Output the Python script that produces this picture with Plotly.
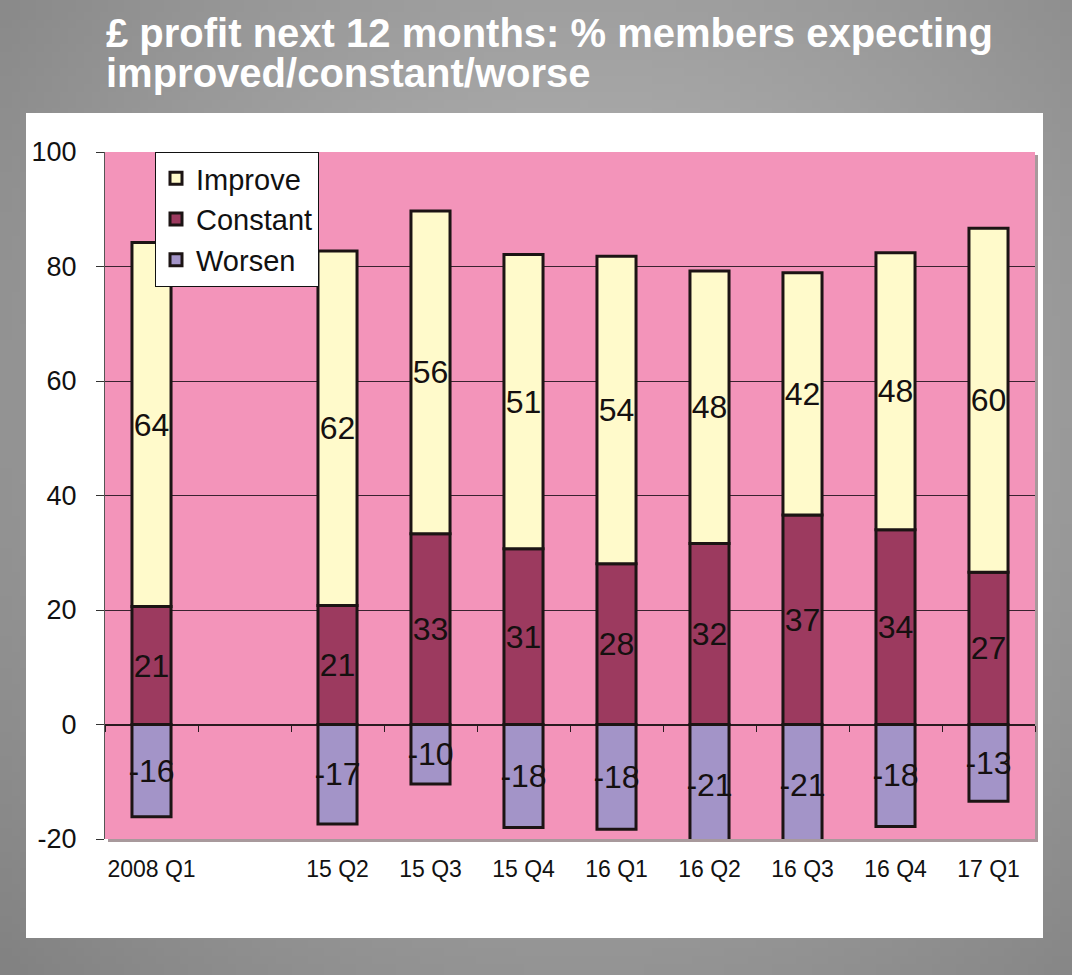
import base64
import struct
import zlib

import numpy as np
import plotly.graph_objects as go

# ---------------- data ----------------
categories = ["2008 Q1", "", "15 Q2", "15 Q3", "15 Q4", "16 Q1", "16 Q2", "16 Q3", "16 Q4", "17 Q1"]
worsen = [-16.1, None, -17.4, -10.4, -18.0, -18.3, -21.0, -21.2, -17.8, -13.4]
constant = [20.6, None, 20.8, 33.3, 30.7, 28.1, 31.6, 36.6, 34.0, 26.6]
improve = [63.6, None, 61.9, 56.4, 51.4, 53.7, 47.6, 42.3, 48.4, 60.1]
y_ticks = [-20, 0, 20, 40, 60, 80, 100]
y_tick_text = ["-20", "0", "20", "40", "60", "80", "100"]

title_lines = ["£ profit next 12 months: % members expecting", "improved/constant/worse"]

# ---------------- geometry ----------------
W, H = 1072, 975
ML, MR, MT, MB = 105, 37, 152, 136
PW, PH = W - ML - MR, H - MT - MB


def px_x(p):
    return (p - ML) / PW


def px_y(p):
    return (H - MB - p) / PH


# ---------------- background gradient image ----------------
def make_png(arr):
    h, w = arr.shape
    raw = b"".join(b"\x00" + bytes(np.repeat(row, 3).tolist()) for row in arr)

    def chunk(tag, data):
        c = struct.pack(">I", len(data)) + tag + data
        return c + struct.pack(">I", zlib.crc32(tag + data) & 0xFFFFFFFF)

    png = b"\x89PNG\r\n\x1a\n"
    png += chunk(b"IHDR", struct.pack(">IIBBBBB", w, h, 8, 2, 0, 0, 0))
    png += chunk(b"IDAT", zlib.compress(raw, 9))
    png += chunk(b"IEND", b"")
    return "data:image/png;base64," + base64.b64encode(png).decode()


gw, gh = 134, 122
yy, xx = np.mgrid[0:gh, 0:gw]
xx = xx * W / gw
yy = yy * H / gh
d = np.sqrt((xx - 580) ** 2 + (yy - 400) ** 2)
val = 182 - 48 * np.clip(d / 760, 0, 1.3) ** 1.2
bg_img = make_png(np.clip(val, 0, 255).astype(np.uint8))

x_pos = list(range(len(categories)))
FONT = "Liberation Sans, Arial, sans-serif"
label_font = dict(family=FONT, size=32, color="#151010")
edge = dict(color="#1c1414", width=3)


def labels(vals):
    return [("" if v is None else f"{v:.0f}") for v in vals]


fig = go.Figure()
fig.add_trace(go.Bar(x=x_pos, y=worsen, name="Worsen", marker=dict(color="#A394C8", line=edge),
                     text=labels(worsen)))
fig.add_trace(go.Bar(x=x_pos, y=constant, name="Constant", marker=dict(color="#9C3A5F", line=edge),
                     text=labels(constant)))
fig.add_trace(go.Bar(x=x_pos, y=improve, name="Improve", marker=dict(color="#FFFACB", line=edge),
                     text=labels(improve)))
fig.update_traces(width=0.42, textposition="inside", insidetextanchor="middle", textangle=0,
                  insidetextfont=label_font, hoverinfo="skip")

# minor boundary ticks on the zero line
fig.add_trace(go.Scatter(x=[None], y=[None], xaxis="x2", showlegend=False, hoverinfo="skip"))

fig.update_layout(
    width=W, height=H,
    margin=dict(l=ML, r=MR, t=MT, b=MB),
    barmode="relative",
    paper_bgcolor="#9a9a9a",
    plot_bgcolor="rgba(0,0,0,0)",
    uniformtext=dict(minsize=32, mode="show"),
    showlegend=True,
    legend=dict(x=px_x(155), y=1.0, xanchor="left", yanchor="top", bgcolor="white",
                bordercolor="#111", borderwidth=1, traceorder="reversed",
                font=dict(family=FONT, size=29, color="#111"),
                tracegroupgap=0, itemwidth=30),
    xaxis=dict(range=[-0.5, len(categories) - 0.5], tickvals=x_pos, ticktext=categories,
               showgrid=False, zeroline=False, showline=False, ticks="",
               ticklabelstandoff=14,
               tickfont=dict(family=FONT, size=23, color="#111")),
    xaxis2=dict(overlaying="x", anchor="free", position=20 / 120, side="bottom",
                range=[-0.5, len(categories) - 0.5],
                tickvals=[i - 0.5 for i in range(len(categories) + 1)],
                showticklabels=False, ticks="outside", ticklen=6, tickwidth=1, tickcolor="#2a1a20",
                showgrid=False, zeroline=False, showline=False),
    yaxis=dict(range=[-20, 100], tickvals=y_ticks, ticktext=y_tick_text,
               showgrid=True, gridcolor="#3a2230", gridwidth=1.2,
               zeroline=True, zerolinecolor="#2a1a20", zerolinewidth=1.5,
               showline=True, linecolor="#555", linewidth=1,
               ticks="outside", ticklen=8, tickcolor="#333", ticklabelstandoff=14,
               tickfont=dict(family=FONT, size=27, color="#111")),
)

# background image covering the whole page
fig.add_layout_image(dict(source=bg_img, xref="paper", yref="paper",
                          x=px_x(0), y=px_y(0), sizex=W / PW, sizey=H / PH,
                          xanchor="left", yanchor="top", sizing="stretch", layer="below"))

# white panel, plot shadow, pink plot area
fig.add_shape(type="rect", xref="paper", yref="paper", x0=px_x(26), x1=px_x(1043),
              y0=px_y(938), y1=px_y(113), fillcolor="white", line=dict(width=0), layer="below")
fig.add_shape(type="rect", xref="paper", yref="paper", x0=px_x(ML + 3), x1=px_x(ML + PW + 3),
              y0=px_y(H - MB + 3), y1=px_y(MT + 3), fillcolor="#a8999c", line=dict(width=0),
              layer="below")
fig.add_shape(type="rect", xref="paper", yref="paper", x0=0, x1=1, y0=0, y1=1,
              fillcolor="#F394BA", line=dict(width=0), layer="below")

# title (two lines, white bold)
for i, line in enumerate(title_lines):
    fig.add_annotation(text=f"<b>{line}</b>", xref="paper", yref="paper",
                       x=px_x(104), y=px_y(33 + 40 * i), xanchor="left", yanchor="middle",
                       showarrow=False,
                       font=dict(family=FONT, size=40, color="white"))

fig.write_html("out.html", config={"displayModeBar": False},
               post_script="document.body.style.margin='0';document.body.style.overflow='hidden';")
